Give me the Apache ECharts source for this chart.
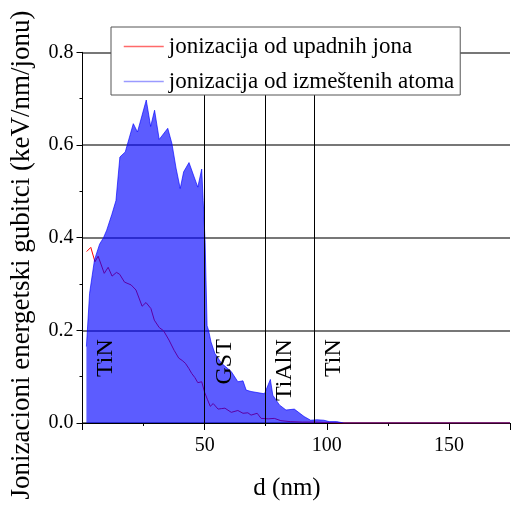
<!DOCTYPE html>
<html>
<head>
<meta charset="utf-8">
<script src="https://cdn.jsdelivr.net/npm/echarts@6/dist/echarts.min.js"></script>
<style>
html,body{margin:0;padding:0;background:#fff;}
#c{width:513px;height:506px;}
</style>
</head>
<body>
<div id="c"></div>
<script>
// --- data ---
var seriesNames = ['jonizacija od upadnih jona', 'jonizacija od izmeštenih atoma'];

// ionization by incident ions (red)
var ionX = [1.7, 3.4, 5.1, 6.4, 8.9, 10.5, 12.1, 13.9, 15.2, 17.2, 19.9, 21.9, 24.4, 26.0, 28.0, 29.4, 31.4, 33.2, 35.4, 37.5, 39.4, 40.8, 42.1, 43.5, 44.7, 46.0, 47.2, 48.8, 50.0, 51.2, 52.3, 53.5, 55.5, 56.8, 58.3, 60.9, 63.6, 65.7, 67.7, 69.0, 71.5, 73.1, 76.0, 78.5, 81.2, 85.0, 90.0, 95.0, 100.0, 105.0, 175.0];
var ionY = [0.370, 0.379, 0.348, 0.360, 0.323, 0.336, 0.317, 0.325, 0.321, 0.304, 0.298, 0.287, 0.252, 0.260, 0.247, 0.222, 0.206, 0.199, 0.179, 0.157, 0.140, 0.135, 0.129, 0.118, 0.107, 0.098, 0.087, 0.089, 0.066, 0.050, 0.036, 0.042, 0.030, 0.031, 0.032, 0.023, 0.027, 0.021, 0.022, 0.017, 0.021, 0.010, 0.009, 0.010, 0.005, 0.003, 0.002, 0.002, 0.001, 0.0, 0.0];

// ionization by displaced atoms (blue area)
var atomX = [1.6, 2.9, 4.9, 7.0, 8.6, 9.9, 12.0, 13.7, 15.3, 17.5, 20.8, 22.5, 26.1, 27.9, 29.5, 31.4, 34.9, 36.6, 38.3, 40.0, 41.4, 43.6, 47.2, 48.8, 49.4, 50.2, 51.0, 51.6, 52.6, 54.2, 56.9, 60.9, 63.6, 65.7, 67.0, 69.0, 74.5, 76.9, 77.9, 80.6, 83.3, 86.7, 90.7, 93.4, 96.0, 98.8, 101.0, 104.0, 107.0, 175.0];
var atomY = [0.165, 0.280, 0.352, 0.386, 0.400, 0.416, 0.450, 0.480, 0.574, 0.585, 0.646, 0.628, 0.697, 0.640, 0.675, 0.612, 0.636, 0.603, 0.550, 0.506, 0.542, 0.562, 0.509, 0.548, 0.480, 0.390, 0.210, 0.200, 0.175, 0.150, 0.129, 0.111, 0.089, 0.091, 0.071, 0.068, 0.063, 0.094, 0.060, 0.039, 0.028, 0.030, 0.014, 0.006, 0.007, 0.006, 0.003, 0.003, 0.0, 0.0];

// layer boundaries (nm) and layer labels
var boundaries = [50, 75, 95];
var layerNames = ['TiN', 'GST', 'TiAlN', 'TiN'];
var layerLabelX = [9.4, 58.3, 82.8, 102.9];
var layerLabelTopY = 0.181;

var yTicks = [0, 0.2, 0.4, 0.6, 0.8];
var xTicks = [50, 100, 150];

var xTitle = 'd (nm)';
var yTitle = 'Jonizacioni energetski gubitci (keV/nm/jonu)';

function pairs(xs, ys) { return xs.map(function (x, i) { return [x, ys[i]]; }); }

var FONT = 'Liberation Serif';
var chart = echarts.init(document.getElementById('c'), null, { renderer: 'canvas' });

var option = {
  animation: false,
  backgroundColor: '#fff',
  grid: { left: 82.5, right: -2, top: 52.3, bottom: 83, containLabel: false },
  legend: {
    orient: 'vertical',
    left: 111, top: 27,
    padding: [8, 6, 2, 12],
    itemGap: 12,
    itemWidth: 40, itemHeight: 14,
    backgroundColor: '#fff',
    borderColor: '#555', borderWidth: 1,
    z: 10,
    textStyle: { fontFamily: FONT, fontSize: 23, color: '#000' },
    data: [
      { name: seriesNames[0], itemStyle: { opacity: 0 }, lineStyle: { color: '#ff6a6a', width: 1.5, opacity: 1 } },
      { name: seriesNames[1], itemStyle: { opacity: 0 }, lineStyle: { color: '#9a9aff', width: 1.5, opacity: 1 } }
    ]
  },
  xAxis: {
    type: 'value', min: 0, max: 175, interval: 50,
    axisLine: { show: true, onZero: false, lineStyle: { color: '#000', width: 1 } },
    axisTick: { show: true, inside: false, length: 7, lineStyle: { color: '#000' } },
    minorTick: { show: true, splitNumber: 2, length: 3, lineStyle: { color: '#000' } },
    splitLine: { show: false },
    axisLabel: {
      margin: 13, color: '#000', fontFamily: FONT, fontSize: 20,
      formatter: function (v) { return xTicks.indexOf(v) >= 0 ? String(v) : ''; }
    }
  },
  yAxis: {
    type: 'value', min: 0, max: 0.8, interval: 0.2,
    axisLine: { show: true, lineStyle: { color: '#000', width: 1 } },
    axisTick: { show: true, inside: false, length: 6, lineStyle: { color: '#000' } },
    minorTick: { show: true, splitNumber: 2, length: 3, lineStyle: { color: '#000' } },
    splitLine: { show: true, lineStyle: { color: '#4a4a4a', width: 1.5 } },
    axisLabel: {
      margin: 9, color: '#000', fontFamily: FONT, fontSize: 20,
      formatter: function (v) { return v.toFixed(1); }
    }
  },
  series: [
    {
      name: seriesNames[0], type: 'line', symbol: 'none', z: 2,
      lineStyle: { color: '#ff0000', width: 1 },
      itemStyle: { color: '#ff0000' },
      data: pairs(ionX, ionY)
    },
    {
      name: seriesNames[1], type: 'line', symbol: 'none', z: 3,
      lineStyle: { color: '#0000ff', width: 1, opacity: 0.64 },
      itemStyle: { color: '#0000ff' },
      areaStyle: { color: '#0000ff', opacity: 0.64, origin: 0 },
      data: pairs(atomX, atomY),
      markLine: {
        silent: true, symbol: 'none', animation: false,
        label: { show: false },
        lineStyle: { color: '#000', width: 1, type: 'solid', opacity: 1 },
        data: boundaries.map(function (b) { return { xAxis: b }; })
      }
    }
  ]
};
chart.setOption(option);

var graphics = [];
layerNames.forEach(function (name, i) {
  var p = chart.convertToPixel({ gridIndex: 0 }, [layerLabelX[i], layerLabelTopY]);
  graphics.push({
    type: 'text', x: p[0], y: p[1], rotation: Math.PI / 2, z: 10,
    style: { text: name, fill: '#000', font: '24px "' + FONT + '"', align: 'right', verticalAlign: 'middle' }
  });
});
graphics.push({
  type: 'text', x: 287, y: 488, z: 10,
  style: { text: xTitle, fill: '#000', font: '25px "' + FONT + '"', align: 'center', verticalAlign: 'middle' }
});
graphics.push({
  type: 'text', x: 22, y: 255, rotation: Math.PI / 2, z: 10,
  style: { text: yTitle, fill: '#000', font: '27px "' + FONT + '"', align: 'center', verticalAlign: 'middle' }
});
chart.setOption({ graphic: graphics });
</script>
</body>
</html>
